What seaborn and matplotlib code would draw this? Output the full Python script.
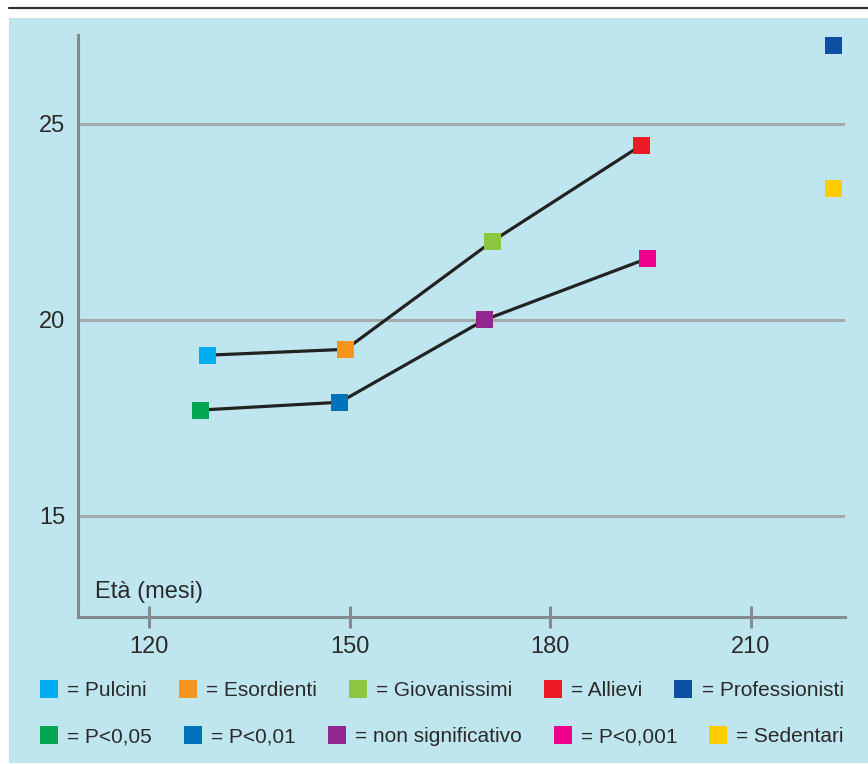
import numpy as np
import pandas as pd
import seaborn as sns
import matplotlib.pyplot as plt
from matplotlib.lines import Line2D
from matplotlib.patches import Rectangle

# data
eta_top = [128.7, 149.4, 171.35, 193.65, 222.4]
val_top = [19.10, 19.25, 22.01, 24.46, 27.0]
lab_top = ["Pulcini", "Esordienti", "Giovanissimi", "Allievi", "Professionisti"]

eta_bot = [127.6, 148.5, 170.15, 194.55, 222.4]
val_bot = [17.70, 17.90, 20.0, 21.57, 23.36]
lab_bot = ["P<0,05", "P<0,01", "non significativo", "P<0,001", "Sedentari"]

colori = {
    "Pulcini": "#00aeef",
    "Esordienti": "#f7941d",
    "Giovanissimi": "#8dc63f",
    "Allievi": "#ed1c24",
    "Professionisti": "#0b4ea2",
    "P<0,05": "#00a651",
    "P<0,01": "#0072bc",
    "non significativo": "#92278f",
    "P<0,001": "#ec008c",
    "Sedentari": "#ffcb05",
}

x_ticks = [120, 150, 180, 210]
y_ticks = [15, 20, 25]

BG = "#bfe6ef"

sns.set_style("white")
plt.rcParams["font.family"] = ["Liberation Sans", "DejaVu Sans"]

df = pd.DataFrame({
    "eta": eta_top + eta_bot,
    "valore": val_top + val_bot,
    "gruppo": lab_top + lab_bot,
})

fig = plt.figure(figsize=(8.68, 7.64), dpi=100)
fig.patch.set_facecolor("white")
fig.patches.append(Rectangle((9 / 868, 1 / 764), 859 / 868, 745 / 764,
                             transform=fig.transFigure, facecolor=BG,
                             edgecolor="none", zorder=-5))
fig.lines.append(Line2D([9 / 868, 1], [1 - 7.5 / 764, 1 - 7.5 / 764],
                        transform=fig.transFigure, color="#333333", lw=1.6,
                        zorder=-5))

ax = fig.add_axes([78 / 868, (764 - 617) / 764, 767 / 868, 582 / 764])
ax.set_facecolor("none")

# lines only through the first four groups of each series
sns.lineplot(x=eta_top[:4], y=val_top[:4], color="#222222", lw=2.3,
             sort=False, ax=ax, zorder=2)
sns.lineplot(x=eta_bot[:4], y=val_bot[:4], color="#222222", lw=2.3,
             sort=False, ax=ax, zorder=2)
sns.scatterplot(data=df, x="eta", y="valore", hue="gruppo", palette=colori,
                marker="s", s=150, linewidth=0, legend=False, ax=ax, zorder=3)

ax.set_xlim(109.33, 224.1)
ax.set_ylim(12.42, 27.27)
ax.set_xticks(x_ticks)
ax.set_yticks(y_ticks)
ax.set_xlabel("")
ax.set_ylabel("")

for s in ["top", "right"]:
    ax.spines[s].set_visible(False)
for s in ["left", "bottom"]:
    ax.spines[s].set_color("#858a8c")
    ax.spines[s].set_linewidth(2.2)

ax.yaxis.grid(True, color="#a5aaac", lw=2.2)
ax.xaxis.grid(False)
ax.set_axisbelow(True)

ax.tick_params(axis="x", bottom=True, direction="inout", length=16, width=2.2,
               color="#858a8c", labelsize=17, labelcolor="#2a2a2a", pad=6)
ax.tick_params(axis="y", left=False, length=0, labelsize=17,
               labelcolor="#2a2a2a", pad=9)

ax.text(17 / 767, 19 / 582, "Età (mesi)", transform=ax.transAxes,
        fontsize=17, color="#2a2a2a", ha="left", va="baseline")

# legend, two rows of five
def quadrati(nomi):
    return [Line2D([], [], marker="s", linestyle="none", markersize=12.6,
                   markerfacecolor=colori[n], markeredgewidth=0) for n in nomi]

for nomi, y_px in [(lab_top, 690.7), (lab_bot, 736.7)]:
    fig.legend(quadrati(nomi), ["= " + n for n in nomi],
               loc="center left", bbox_to_anchor=(40 / 868, 1 - y_px / 764),
               ncol=5, frameon=False, fontsize=15, labelcolor="#2a2a2a",
               borderpad=0, borderaxespad=0, handlelength=0.84,
               handletextpad=0.45, columnspacing=1.55)

fig.savefig("out.png", dpi=100)
